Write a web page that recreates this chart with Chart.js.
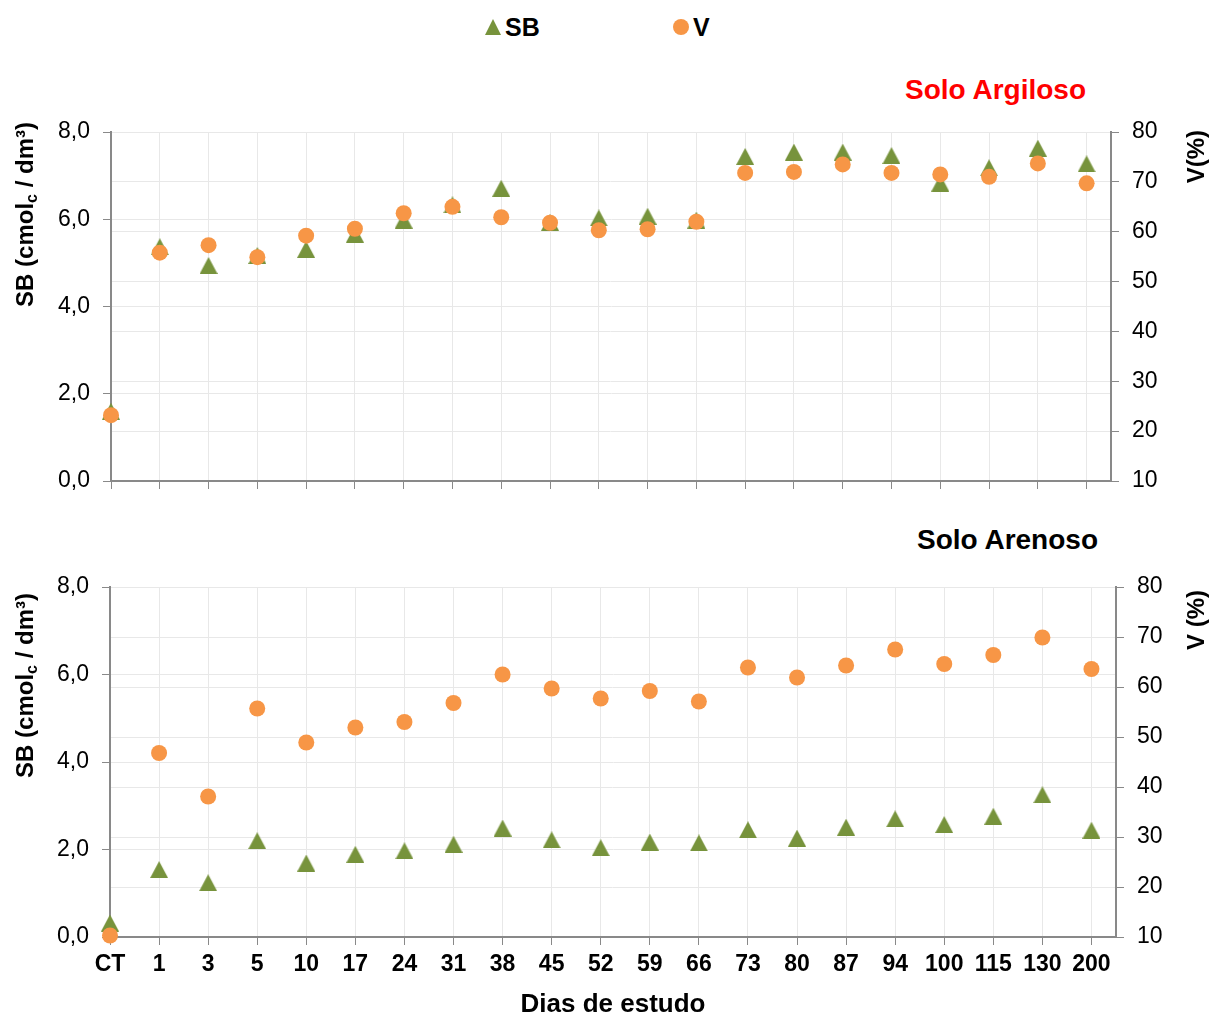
<!DOCTYPE html>
<html>
<head>
<meta charset="utf-8">
<script src="https://cdn.jsdelivr.net/npm/chart.js@4.4.1/dist/chart.umd.min.js"></script>
<style>
  html, body { margin: 0; padding: 0; background: #fff; }
  body { font-family: 'Liberation Sans', Arial, sans-serif; }
  #page { position: relative; width: 1211px; height: 1014px; overflow: hidden; }
  .chart-box { position: absolute; left: 0; width: 1211px; }
  .chart-box canvas { display: block; }
  .legend-item { position: absolute; top: 12px; display: flex; align-items: center; font-weight: bold; font-size: 25px; line-height: 30px; color: #000; }
  .mk-tri { width: 0; height: 0; border-left: 8.5px solid transparent; border-right: 8.5px solid transparent; border-bottom: 16px solid #77933c; margin-right: 4px; }
  .mk-dot { width: 16px; height: 16px; border-radius: 50%; background: #f79646; margin-right: 4px; }
  .panel-title { position: absolute; font-weight: bold; font-size: 28px; line-height: 28px; white-space: nowrap; }
</style>
</head>
<body>
<div id="page">
  <div class="legend-item" style="left:485px"><span class="mk-tri"></span>SB</div>
  <div class="legend-item" style="left:673px"><span class="mk-dot"></span>V</div>

  <div class="panel-title" style="right:125px;top:76px;color:#ff0000">Solo Argiloso</div>
  <div class="panel-title" style="right:113px;top:526px;color:#000">Solo Arenoso</div>

  <!-- the two canvases overlap a little; both are transparent -->
  <div class="chart-box" style="top:0;height:520px"><canvas id="chart-argiloso" width="1211" height="520"></canvas></div>
  <div class="chart-box" style="top:505px;height:509px"><canvas id="chart-arenoso" width="1211" height="509"></canvas></div>
</div>

<script>
/* ── Data ───────────────────────────────────────────────────── */
const DAYS = ['CT', '1', '3', '5', '10', '17', '24', '31', '38', '45', '52',
              '59', '66', '73', '80', '87', '94', '100', '115', '130', '200'];

// Solo Argiloso
const SB_ARGILOSO = [1.60, 5.37, 4.94, 5.17, 5.31, 5.66, 5.98, 6.33, 6.71, 5.93, 6.03,
                     6.07, 5.98, 7.44, 7.54, 7.54, 7.46, 6.83, 7.18, 7.63, 7.27];
const V_ARGILOSO  = [23.2, 55.8, 57.3, 54.9, 59.2, 60.6, 63.7, 65.0, 62.9, 61.8, 60.3,
                     60.5, 62.0, 71.8, 72.0, 73.5, 71.8, 71.5, 71.0, 73.7, 69.7];

// Solo Arenoso
const SB_ARENOSO  = [0.32, 1.54, 1.24, 2.20, 1.69, 1.89, 1.97, 2.12, 2.49, 2.22, 2.04,
                     2.17, 2.15, 2.45, 2.26, 2.51, 2.70, 2.57, 2.76, 3.25, 2.44];
const V_ARENOSO   = [10.3, 46.8, 38.1, 55.7, 48.9, 51.9, 53.0, 56.8, 62.5, 59.7, 57.7,
                     59.2, 57.1, 63.9, 61.9, 64.3, 67.5, 64.6, 66.4, 69.9, 63.6];

const SB_RANGE = [0, 8];    // left axis, step 2
const V_RANGE  = [10, 80];  // right axis, step 10

/* ── Styling ────────────────────────────────────────────────── */
const FONT   = "'Liberation Sans', Arial, sans-serif";
const GREEN  = '#77933c';
const ORANGE = '#f79646';
const GRID   = '#e8e8e8';
const AXIS   = '#898989';

Chart.defaults.font.family = FONT;
Chart.defaults.color = '#000';

function triangleMarker(w, h, color) {
  const c = document.createElement('canvas');
  c.width = w;
  c.height = h;
  const g = c.getContext('2d');
  g.fillStyle = color;
  g.beginPath();
  g.moveTo(w / 2, 0);
  g.lineTo(w, h);
  g.lineTo(0, h);
  g.closePath();
  g.fill();
  return c;
}
const TRIANGLE = triangleMarker(18, 17, GREEN);

/* Axis titles read bottom-to-top on both sides, with a subscript "c" */
function drawUpText(ctx, parts, x, yTop) {
  ctx.save();
  ctx.translate(x, yTop);
  ctx.rotate(-Math.PI / 2);
  ctx.fillStyle = '#000';
  ctx.textBaseline = 'alphabetic';
  const fonts  = parts.map(p => p.sub ? `bold 16px ${FONT}` : `bold 24px ${FONT}`);
  const widths = parts.map((p, i) => { ctx.font = fonts[i]; return ctx.measureText(p.text).width; });
  let u = -widths.reduce((a, b) => a + b, 0);
  parts.forEach((p, i) => {
    ctx.font = fonts[i];
    ctx.fillText(p.text, u, p.sub ? 4 : 0);
    u += widths[i];
  });
  ctx.restore();
}

const sideTitles = {
  id: 'sideTitles',
  afterDraw(chart, _args, opts) {
    const { ctx, chartArea } = chart;
    drawUpText(ctx, opts.left.parts,  chartArea.left  + opts.left.dx,  chartArea.top + opts.left.dy);
    drawUpText(ctx, opts.right.parts, chartArea.right + opts.right.dx, chartArea.top + opts.right.dy);
  },
};

const SB_TITLE = [{ text: 'SB (cmol' }, { text: 'c', sub: true }, { text: ' / dm³)' }];

const toPoints = arr => arr.map((y, i) => ({ x: i, y }));
const comma1   = v => v.toFixed(1).replace('.', ',');

/* ── Chart builder ──────────────────────────────────────────── */
function buildChart(canvasId, cfg) {
  return new Chart(document.getElementById(canvasId), {
    type: 'scatter',
    data: {
      datasets: [
        {
          label: 'SB',
          data: toPoints(cfg.sb),
          yAxisID: 'y',
          pointStyle: TRIANGLE,
          pointRadius: 9,
          pointHoverRadius: 9,
          order: 2,
          clip: false,
        },
        {
          label: 'V',
          data: toPoints(cfg.v),
          yAxisID: 'y1',
          pointStyle: 'circle',
          pointRadius: 8,
          pointHoverRadius: 8,
          backgroundColor: ORANGE,
          borderWidth: 0,
          order: 1,
          clip: false,
        },
      ],
    },
    options: {
      responsive: false,
      animation: false,
      events: [],
      layout: { padding: { top: cfg.padTop, left: 0, right: 0, bottom: 0 } },
      plugins: {
        legend:  { display: false },
        tooltip: { enabled: false },
        sideTitles: {
          left:  { parts: SB_TITLE, dx: cfg.leftDx, dy: cfg.leftDy },
          right: { parts: [{ text: cfg.vTitle }], dx: cfg.rightDx, dy: cfg.rightDy },
        },
      },
      scales: {
        x: {
          type: 'linear',
          min: 0,
          max: 20.5,
          afterFit: s => { s.height = cfg.xHeight; },
          grid:   { color: GRID, tickColor: AXIS, tickLength: 8 },
          border: { color: AXIS, width: 2 },
          ticks: {
            stepSize: 1,
            includeBounds: false,
            autoSkip: false,
            maxRotation: 0,
            display: cfg.showDays,
            padding: 6,
            font: { size: 23, weight: 'bold' },
            callback: v => DAYS[v],
          },
          title: {
            display: cfg.showDays,
            text: 'Dias de estudo',
            font: { size: 26, weight: 'bold', lineHeight: 0.7 },
            padding: { top: 0, bottom: 0 },
          },
        },
        y: {
          position: 'left',
          min: SB_RANGE[0],
          max: SB_RANGE[1],
          afterFit: s => { s.width = cfg.leftWidth; },
          grid:   { color: GRID, tickColor: AXIS, tickLength: 8 },
          border: { color: AXIS, width: 2 },
          ticks:  { stepSize: 2, padding: 13, font: { size: 23 }, callback: comma1 },
        },
        y1: {
          position: 'right',
          min: V_RANGE[0],
          max: V_RANGE[1],
          afterFit: s => { s.width = cfg.rightWidth; },
          grid:   { color: GRID, tickColor: AXIS, tickLength: 8 },
          border: { color: AXIS, width: 2 },
          ticks:  { stepSize: 10, padding: 13, font: { size: 23 } },
        },
      },
    },
    plugins: [sideTitles],
  });
}

buildChart('chart-argiloso', {
  sb: SB_ARGILOSO, v: V_ARGILOSO, vTitle: 'V(%)',
  padTop: 132, xHeight: 39, leftWidth: 111, rightWidth: 100, showDays: false,
  leftDx: -78, leftDy: -10, rightDx: 93, rightDy: -2,
});

buildChart('chart-arenoso', {
  sb: SB_ARENOSO, v: V_ARENOSO, vTitle: 'V (%)',
  padTop: 82, xHeight: 77, leftWidth: 110, rightWidth: 95, showDays: true,
  leftDx: -77, leftDy: 6, rightDx: 88, rightDy: 3,
});
</script>
</body>
</html>
